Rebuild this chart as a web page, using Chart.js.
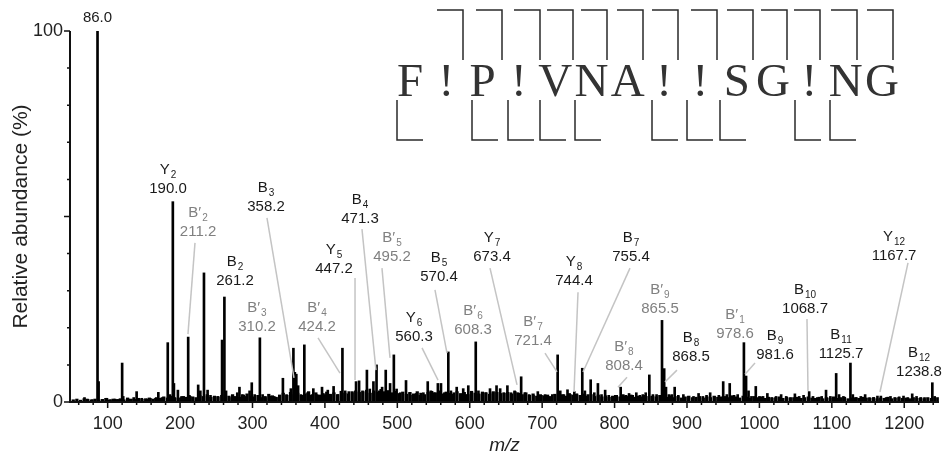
<!DOCTYPE html>
<html>
<head>
<meta charset="utf-8">
<script src="https://cdn.jsdelivr.net/npm/chart.js@4.4.1/dist/chart.umd.min.js"></script>
<style>
  html, body { margin: 0; padding: 0; background: #fff; }
  #wrap { width: 948px; height: 458px; }
</style>
</head>
<body>
<div id="wrap"><canvas id="spectrum"></canvas></div>
<script>
// peaks: m/z and relative abundance (%)
const peakMz = [
  68, 72, 79, 86.0, 87.5, 93, 99, 104, 110, 115,
  120.0, 121.5, 129, 136, 140, 147, 155, 159, 166, 170,
  175, 183, 186, 190.0, 191.5, 197, 201, 205, 211.2, 214,
  218, 225, 228, 233, 238, 242, 247, 252, 258, 261.2,
  263.5, 268, 274, 279, 282, 286, 291, 296, 299, 303,
  310.2, 314, 318, 324, 330, 336, 342, 347, 353, 356.5,
  358.5, 360.5, 363, 367, 371.6, 376, 380, 384, 389, 396,
  400, 404, 408, 412, 418, 424.2, 428, 433, 438, 443,
  447.2, 452, 458, 462, 467, 471.3, 475, 479, 484, 490,
  495.2, 499, 504, 512, 517, 521, 526, 531, 536, 542,
  546, 551, 556, 560.3, 565, 570.4, 574, 578, 582, 587,
  591, 595, 598, 603, 608.3, 612, 617, 622, 628, 632,
  637, 642, 647, 652, 657, 662, 666, 671, 676, 682,
  688, 694, 699, 704, 709, 714, 721.4, 725, 730, 735,
  739, 744.4, 748, 755.4, 759, 763, 767, 772, 777, 782,
  787, 792, 797, 801, 808.4, 812, 816, 820, 825, 830,
  835, 839, 843, 848, 853, 858, 865.5, 868.5, 871, 875,
  879, 883, 888, 895, 902, 909, 916, 922, 927, 932,
  938, 944, 950, 955, 959, 965, 970, 978.6, 981.6, 985,
  989, 995, 1000, 1005, 1011, 1017, 1023, 1030, 1037, 1043,
  1049, 1055, 1061, 1068.7, 1074, 1080, 1086, 1092, 1098, 1106,
  1110, 1116, 1125.7, 1129, 1134, 1140, 1146, 1152, 1158, 1163,
  1167.7, 1175, 1181, 1187, 1193, 1199, 1205, 1211, 1217, 1223,
  1228, 1238.8, 1242, 1246
];
const peakAbundance = [
  1.2, 0.8, 0.6, 100, 5.5, 0.7, 1.0, 0.6, 0.8, 0.7,
  10.5, 1.5, 0.8, 1.2, 2.8, 1.0, 0.8, 1.0, 1.0, 2.6,
  1.2, 16, 2, 54, 5, 3.2, 1.2, 1.5, 17.5, 1.5,
  1.2, 4.6, 3, 34.8, 3.2, 1.8, 1.2, 1.5, 16.7, 28.3,
  3, 1.2, 1.5, 2.5, 4, 2, 1.5, 3, 5.2, 2,
  17.3, 2, 1.2, 1.6, 1.5, 1.2, 6.4, 2, 3.6, 14.5,
  8, 7.5, 4.4, 2, 15.4, 2.5, 1.8, 3.6, 2, 4,
  2, 3.2, 1.8, 4.2, 2, 14.5, 3, 2.8, 2.5, 5.5,
  5.7, 3, 8.6, 3.5, 5.5, 10, 3, 4, 8.6, 5,
  12.7, 3.5, 2.5, 5.8, 2.5, 1.8, 2.3, 1.8, 2.5, 5.5,
  3, 2.5, 5, 5, 2.5, 13.5, 3, 2.5, 4, 2,
  3.6, 2, 4.4, 2.5, 16.2, 3, 2, 2.5, 3.6, 2.5,
  4.4, 3.6, 2.5, 4.4, 2.5, 3, 2.5, 6.8, 2.5, 2,
  1.8, 2.8, 1.8, 2, 1.5, 2, 12.7, 3, 2, 3.3,
  2, 2.8, 2.2, 9.1, 3, 2, 6, 2.5, 5, 2,
  3.2, 1.8, 1.5, 1.8, 4, 2, 1.8, 2.3, 1.8, 2.5,
  1.8, 2, 2.5, 7.3, 2, 2, 22, 9, 4, 2,
  2, 4, 1.8, 2, 1.5, 1.5, 2.3, 1.5, 1.8, 2.5,
  1.5, 1.8, 5.5, 2, 5, 1.8, 2, 16, 7, 3,
  1.5, 4.2, 1.5, 1.5, 2.3, 1.2, 1.5, 2, 1.5, 1.2,
  2.2, 1.5, 1.8, 2.8, 1.5, 1.2, 1.5, 3.2, 1.5, 7.7,
  2, 1.5, 10.5, 2, 1.2, 1.5, 2, 1.2, 1.2, 1.6,
  1.6, 1.2, 1.5, 1.2, 1.4, 1.6, 1.2, 2.2, 1.5, 1.2,
  1.2, 5.2, 1.5, 1.2
];

// low-level chemical noise along the baseline
const noiseMz = [
  52.5, 57.5, 62.5, 67.5, 72.5, 77.5, 82.5, 87.5, 92.5, 97.5, 102.5, 107.5, 112.5, 117.5, 122.5, 127.5, 132.5, 137.5, 142.5, 147.5,
  152.5, 157.5, 162.5, 167.5, 172.5, 177.5, 182.5, 187.5, 192.5, 197.5, 202.5, 207.5, 212.5, 217.5, 222.5, 227.5, 232.5, 237.5, 242.5, 247.5,
  252.5, 257.5, 262.5, 267.5, 272.5, 277.5, 282.5, 287.5, 292.5, 297.5, 302.5, 307.5, 312.5, 317.5, 322.5, 327.5, 332.5, 337.5, 342.5, 347.5,
  352.5, 357.5, 362.5, 367.5, 372.5, 377.5, 382.5, 387.5, 392.5, 397.5, 402.5, 407.5, 412.5, 417.5, 422.5, 427.5, 432.5, 437.5, 442.5, 447.5,
  452.5, 457.5, 462.5, 467.5, 472.5, 477.5, 482.5, 487.5, 492.5, 497.5, 502.5, 507.5, 512.5, 517.5, 522.5, 527.5, 532.5, 537.5, 542.5, 547.5,
  552.5, 557.5, 562.5, 567.5, 572.5, 577.5, 582.5, 587.5, 592.5, 597.5, 602.5, 607.5, 612.5, 617.5, 622.5, 627.5, 632.5, 637.5, 642.5, 647.5,
  652.5, 657.5, 662.5, 667.5, 672.5, 677.5, 682.5, 687.5, 692.5, 697.5, 702.5, 707.5, 712.5, 717.5, 722.5, 727.5, 732.5, 737.5, 742.5, 747.5,
  752.5, 757.5, 762.5, 767.5, 772.5, 777.5, 782.5, 787.5, 792.5, 797.5, 802.5, 807.5, 812.5, 817.5, 822.5, 827.5, 832.5, 837.5, 842.5, 847.5,
  852.5, 857.5, 862.5, 867.5, 872.5, 877.5, 882.5, 887.5, 892.5, 897.5, 902.5, 907.5, 912.5, 917.5, 922.5, 927.5, 932.5, 937.5, 942.5, 947.5,
  952.5, 957.5, 962.5, 967.5, 972.5, 977.5, 982.5, 987.5, 992.5, 997.5, 1002.5, 1007.5, 1012.5, 1017.5, 1022.5, 1027.5, 1032.5, 1037.5, 1042.5, 1047.5,
  1052.5, 1057.5, 1062.5, 1067.5, 1072.5, 1077.5, 1082.5, 1087.5, 1092.5, 1097.5, 1102.5, 1107.5, 1112.5, 1117.5, 1122.5, 1127.5, 1132.5, 1137.5, 1142.5, 1147.5,
  1152.5, 1157.5, 1162.5, 1167.5, 1172.5, 1177.5, 1182.5, 1187.5, 1192.5, 1197.5, 1202.5, 1207.5, 1212.5, 1217.5, 1222.5, 1227.5, 1232.5, 1237.5, 1242.5
];
const noiseAbundance = [
  0.6, 0.8, 0.5, 0.9, 0.7, 0.6, 0.8, 0.5, 0.7, 1.0, 0.6, 0.8, 0.7, 0.9, 0.6, 1.1, 0.8, 0.7, 1.0, 0.8,
  0.9, 1.1, 0.8, 1.2, 1.0, 1.4, 1.1, 1.6, 1.2, 1.0, 1.5, 1.3, 1.8, 1.4, 1.2, 1.7, 1.5, 2.0, 1.3, 1.6,
  1.4, 1.8, 1.2, 1.6, 2.0, 1.5, 1.3, 1.9, 2.2, 1.6, 1.4, 1.8, 1.2, 1.5, 2.1, 1.7, 1.3, 1.9, 2.4, 1.8,
  2.6, 2.0, 2.4, 1.8, 2.2, 2.8, 2.0, 2.5, 1.9, 2.3, 2.7, 2.1, 2.5, 2.0, 2.9, 2.4, 2.2, 2.8, 3.0, 2.6,
  2.8, 3.2, 2.4, 3.0, 2.6, 3.4, 2.8, 3.1, 2.5, 2.9, 2.3, 2.7, 2.1, 2.6, 2.2, 2.8, 2.4, 2.0, 2.6, 2.9,
  2.5, 3.0, 2.2, 2.7, 2.4, 2.1, 2.8, 2.3, 2.6, 2.0, 2.9, 2.4, 2.2, 2.7, 2.5, 2.1, 2.8, 2.6, 2.3, 2.4,
  2.6, 2.2, 2.8, 2.4, 2.0, 2.5, 1.8, 2.2, 1.6, 2.0, 1.7, 1.9, 1.5, 2.1, 1.8, 2.0, 1.6, 2.3, 1.9, 2.1,
  1.8, 2.2, 1.6, 2.0, 1.5, 1.9, 1.4, 1.7, 1.3, 1.6, 1.8, 1.4, 1.7, 1.5, 1.9, 1.3, 1.6, 1.4, 1.8, 1.5,
  1.6, 1.4, 1.8, 1.5, 1.3, 1.7, 1.2, 1.5, 1.1, 1.4, 1.6, 1.2, 1.3, 1.5, 1.1, 1.4, 1.2, 1.6, 1.3, 1.4,
  1.5, 1.2, 1.7, 1.4, 1.1, 1.6, 1.3, 1.0, 1.5, 1.2, 1.4, 1.0, 1.3, 1.1, 1.2, 1.4, 1.0, 1.3, 1.1, 1.2,
  1.3, 1.0, 1.2, 1.4, 1.1, 1.0, 1.3, 0.9, 1.2, 1.1, 1.4, 1.0, 1.2, 1.3, 0.9, 1.1, 1.2, 1.0, 1.3, 1.1,
  1.0, 1.2, 0.9, 1.1, 1.0, 1.3, 0.9, 1.1, 1.2, 1.0, 1.1, 0.9, 1.2, 1.0, 1.1, 0.9, 1.2, 1.0, 1.1
];

const xTickValues = [100, 200, 300, 400, 500, 600, 700, 800, 900, 1000, 1100, 1200];
const yTickValues = [0, 100];

// fragment annotations; "at" = centre of the m/z line, leader = [from, to] in (m/z, %)
const ionLabels = [
  { ion: "",  sub: "",   prime: false, text: "86.0",   at: [86.0, 103.5] },
  { ion: "Y", sub: "2",  prime: false, text: "190.0",  at: [183.3, 57.4] },
  { ion: "B", sub: "2",  prime: true,  text: "211.2",  at: [224.8, 45.8], leader: [[220.6, 42.9], [210.9, 18.3]] },
  { ion: "B", sub: "3",  prime: false, text: "358.2",  at: [318.7, 52.6], leader: [[320, 49.6], [357.3, 6.5]] },
  { ion: "B", sub: "2",  prime: false, text: "261.2",  at: [275.9, 32.6] },
  { ion: "B", sub: "3",  prime: true,  text: "310.2",  at: [306.2, 20.2] },
  { ion: "B", sub: "4",  prime: true,  text: "424.2",  at: [389.1, 20.2], leader: [[390.5, 17.3], [420.8, 7.8]] },
  { ion: "Y", sub: "5",  prime: false, text: "447.2",  at: [412.6, 35.8], leader: [[441.6, 33.4], [441.6, 5.9]] },
  { ion: "B", sub: "4",  prime: false, text: "471.3",  at: [448.5, 49.3], leader: [[451.2, 46.6], [470.5, 8.6]] },
  { ion: "B", sub: "5",  prime: true,  text: "495.2",  at: [492.7, 39.1], leader: [[478.8, 36.1], [489.9, 11.9]] },
  { ion: "B", sub: "5",  prime: false, text: "570.4",  at: [557.6, 33.7], leader: [[552, 30.2], [568.6, 13.2]] },
  { ion: "Y", sub: "6",  prime: false, text: "560.3",  at: [523, 17.5],   leader: [[534.1, 14.6], [556.2, 5.9]] },
  { ion: "Y", sub: "7",  prime: false, text: "673.4",  at: [630.8, 39.1], leader: [[628, 36.1], [665.3, 4.6]] },
  { ion: "B", sub: "6",  prime: true,  text: "608.3",  at: [604.5, 19.4] },
  { ion: "B", sub: "7",  prime: true,  text: "721.4",  at: [687.4, 16.4], leader: [[703.9, 13.2], [720.5, 8.1]] },
  { ion: "Y", sub: "8",  prime: false, text: "744.4",  at: [744, 32.6],   leader: [[749.5, 29.6], [744, 2.7]] },
  { ion: "B", sub: "7",  prime: false, text: "755.4",  at: [822.7, 39.1], leader: [[821.3, 36.1], [756.4, 8.1]] },
  { ion: "B", sub: "8",  prime: true,  text: "808.4",  at: [813, 9.7],    leader: [[817.2, 6.7], [804.7, 4]] },
  { ion: "B", sub: "9",  prime: true,  text: "865.5",  at: [862.7, 25.1] },
  { ion: "B", sub: "8",  prime: false, text: "868.5",  at: [905.6, 12.1], leader: [[886.2, 8.6], [869.6, 5.4]] },
  { ion: "B", sub: "1",  prime: true,  text: "978.6",  at: [966.3, 18.3] },
  { ion: "B", sub: "9",  prime: false, text: "981.6",  at: [1021.6, 12.7], leader: [[993.9, 10.5], [980.1, 7.5]] },
  { ion: "B", sub: "10", prime: false, text: "1068.7", at: [1063, 25.1],  leader: [[1065.7, 22.4], [1067.1, 3]] },
  { ion: "B", sub: "11", prime: false, text: "1125.7", at: [1112.7, 12.9] },
  { ion: "Y", sub: "12", prime: false, text: "1167.7", at: [1185.9, 39.4], leader: [[1205.2, 37.5], [1166.5, 2.7]] },
  { ion: "B", sub: "12", prime: false, text: "1238.8", at: [1220.4, 8.1] }
];

// peptide sequence with fragmentation brackets (drawn in the top-right corner)
const sequence = "F!P!VNA!!SG!NG";
const seqLeft = 410, seqStep = 36.3, seqBaseline = 96;
const topBracketX = [463, 502, 540, 573, 607, 643, 678, 717, 753, 787, 820, 857, 893];
const bottomBracketX = [397, 472, 508, 540, 575, 652, 687, 720, 795, 830];

const SANS = '"Liberation Sans", Arial, Helvetica, sans-serif';

function drawIonLabel(ctx, cx, cy, a) {
  ctx.fillStyle = a.prime ? "#808080" : "#1a1a1a";
  ctx.textBaseline = "middle";
  ctx.textAlign = "center";
  ctx.font = "15px " + SANS;
  ctx.fillText(a.text, cx, cy);
  if (!a.ion) return;
  const head = a.ion + (a.prime ? "\u2032" : "");
  const wHead = ctx.measureText(head).width;
  ctx.font = "10px " + SANS;
  const wSub = ctx.measureText(a.sub).width;
  const left = cx - (wHead + wSub + 1) / 2;
  ctx.textAlign = "left";
  ctx.font = "15px " + SANS;
  ctx.fillText(head, left, cy - 19);
  ctx.font = "10px " + SANS;
  ctx.fillText(a.sub, left + wHead + 1, cy - 14);
}

const spectrumDecor = {
  id: "spectrumDecor",
  afterDraw(chart) {
    const { ctx, scales: { x, y } } = chart;
    ctx.save();

    // leader lines
    ctx.strokeStyle = "#c4c4c4";
    ctx.lineWidth = 1.5;
    ionLabels.forEach(a => {
      if (!a.leader) return;
      ctx.beginPath();
      ctx.moveTo(x.getPixelForValue(a.leader[0][0]), y.getPixelForValue(a.leader[0][1]));
      ctx.lineTo(x.getPixelForValue(a.leader[1][0]), y.getPixelForValue(a.leader[1][1]));
      ctx.stroke();
    });

    // axes and tick marks
    ctx.strokeStyle = "#111";
    ctx.lineWidth = 2;
    ctx.beginPath();
    ctx.moveTo(x.left, y.top);
    ctx.lineTo(x.left, y.bottom);
    ctx.moveTo(x.left - 1, y.bottom);
    ctx.lineTo(x.right, y.bottom);
    ctx.stroke();
    ctx.lineWidth = 1.5;
    ctx.beginPath();
    for (let v = 0; v <= 100; v += 10) {
      const py = y.getPixelForValue(v);
      const len = v % 50 === 0 ? 6 : 3;
      ctx.moveTo(x.left - len, py);
      ctx.lineTo(x.left, py);
    }
    for (let v = 60; v <= 1240; v += 20) {
      const px = x.getPixelForValue(v);
      const len = v % 100 === 0 ? 6 : 3;
      ctx.moveTo(px, y.bottom);
      ctx.lineTo(px, y.bottom + len);
    }
    ctx.stroke();

    // peak labels
    ionLabels.forEach(a => {
      drawIonLabel(ctx, x.getPixelForValue(a.at[0]), y.getPixelForValue(a.at[1]), a);
    });

    // sequence
    ctx.fillStyle = "#333";
    ctx.textAlign = "center";
    ctx.textBaseline = "alphabetic";
    ctx.font = '47px "Liberation Serif", "Times New Roman", serif';
    sequence.split("").forEach((ch, i) => {
      ctx.fillText(ch, seqLeft + i * seqStep, seqBaseline);
    });
    ctx.strokeStyle = "#2a2a2a";
    ctx.lineWidth = 1.5;
    ctx.beginPath();
    topBracketX.forEach(bx => {
      ctx.moveTo(bx - 26, 10);
      ctx.lineTo(bx, 10);
      ctx.lineTo(bx, 60);
    });
    bottomBracketX.forEach(bx => {
      ctx.moveTo(bx, 100);
      ctx.lineTo(bx, 140);
      ctx.lineTo(bx + 26, 140);
    });
    ctx.stroke();

    ctx.restore();
  }
};

new Chart(document.getElementById("spectrum"), {
  type: "bar",
  data: {
    datasets: [
      {
        data: peakMz.map((m, i) => ({ x: m, y: peakAbundance[i] })),
        backgroundColor: "#000",
        barThickness: 2,
        grouped: false
      },
      {
        data: noiseMz.map((m, i) => ({ x: m, y: noiseAbundance[i] })),
        backgroundColor: "#000",
        barThickness: 2.6,
        grouped: false
      }
    ]
  },
  options: {
    responsive: true,
    maintainAspectRatio: false,
    animation: false,
    layout: { padding: { top: 31, right: 9, left: 0, bottom: 0 } },
    plugins: { legend: { display: false }, tooltip: { enabled: false } },
    scales: {
      x: {
        type: "linear",
        min: 48,
        max: 1248,
        offset: false,
        grid: { display: false, drawTicks: false },
        border: { display: false },
        afterBuildTicks: s => { s.ticks = xTickValues.map(v => ({ value: v })); },
        afterFit: s => { s.height = 56; },
        ticks: {
          autoSkip: false,
          maxRotation: 0,
          padding: 11,
          color: "#222",
          font: { family: SANS, size: 18 },
          callback: v => String(v)
        },
        title: {
          display: true,
          text: "m/z",
          color: "#222",
          padding: { top: 0, bottom: 1 },
          font: { family: SANS, size: 19, style: "italic" }
        }
      },
      y: {
        min: 0,
        max: 100,
        grid: { display: false, drawTicks: false },
        border: { display: false },
        afterBuildTicks: s => { s.ticks = yTickValues.map(v => ({ value: v })); },
        afterFit: s => { s.width = 70; },
        ticks: {
          padding: 7,
          color: "#222",
          font: { family: SANS, size: 18 }
        },
        title: {
          display: true,
          text: "Relative abundance (%)",
          color: "#222",
          padding: { top: 9, bottom: 0 },
          font: { family: SANS, size: 21 }
        }
      }
    }
  },
  plugins: [spectrumDecor]
});
</script>
</body>
</html>
